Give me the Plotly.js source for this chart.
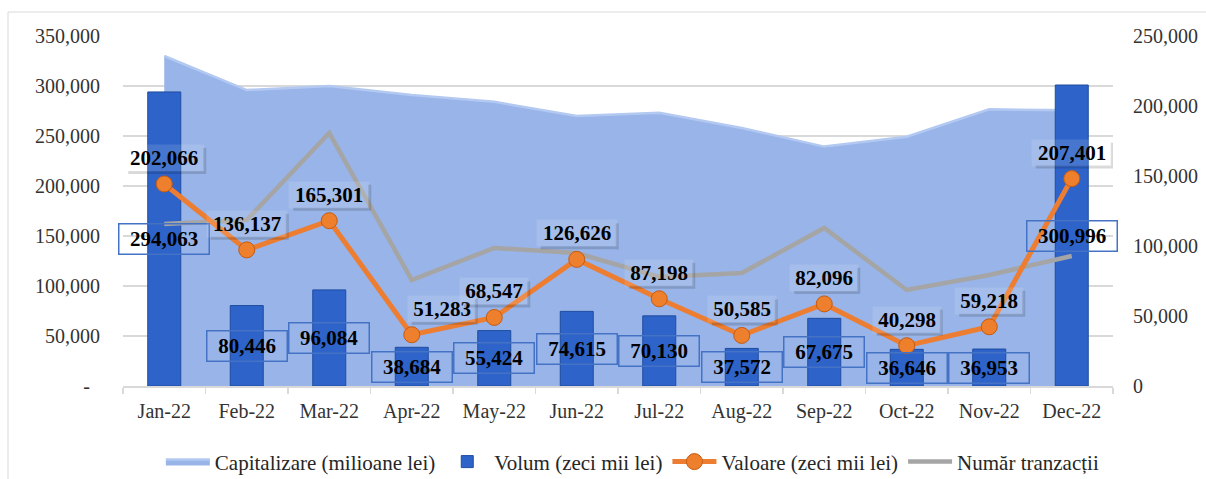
<!DOCTYPE html>
<html>
<head>
<meta charset="utf-8">
<script src="https://cdn.plot.ly/plotly-3.0.1.min.js"></script>
<style>
  html, body { margin: 0; padding: 0; background: #ffffff; }
  #chart { width: 1206px; height: 479px; }
</style>
</head>
<body>
<div id="chart"></div>
<script>
// ---- Data ----
const months = ["Jan-22", "Feb-22", "Mar-22", "Apr-22", "May-22", "Jun-22",
                "Jul-22", "Aug-22", "Sep-22", "Oct-22", "Nov-22", "Dec-22"];
// Capitalizare (milioane lei) - right axis
const capitalizare = [235700, 211400, 214300, 207900, 203000, 192900,
                      195200, 184300, 171000, 178000, 197600, 197000];
// Volum (zeci mii lei) - left axis, labelled values
const volum = [294063, 80446, 96084, 38684, 55424, 74615,
               70130, 37572, 67675, 36646, 36953, 300996];
// Valoare (zeci mii lei) - left axis, labelled values
const valoare = [202066, 136137, 165301, 51283, 68547, 126626,
                 87198, 50585, 82096, 40298, 59218, 207401];
// Număr tranzacții - right axis
const tranzactii = [115700, 118600, 180700, 75700, 98600, 95000,
                    77900, 80700, 112900, 68600, 79300, 92900];
// Tick labels
const leftTickVals = [0, 50000, 100000, 150000, 200000, 250000, 300000, 350000];
const leftTickText = ["-\u00a0\u00a0", "50,000", "100,000", "150,000", "200,000", "250,000", "300,000", "350,000"];
const rightTickVals = [0, 50000, 100000, 150000, 200000, 250000];
const rightTickText = ["0", "50,000", "100,000", "150,000", "200,000", "250,000"];

const FONT = "Liberation Serif, Times New Roman, DejaVu Serif, serif";
const fmt = v => v.toLocaleString('en-US');

const traces = [
  {
    name: "Capitalizare (milioane lei)",
    type: "scatter", mode: "lines",
    x: months, y: capitalizare, yaxis: "y",
    fill: "tozeroy", fillcolor: "#98B4E8",
    line: { color: "#B3C9F2", width: 2.5 },
    hoverinfo: "skip", legendrank: 1
  },
  {
    name: "Volum (zeci mii lei)",
    type: "bar",
    x: months, y: volum, yaxis: "y2",
    marker: { color: "#2E63C9", line: { color: "#1E4C9F", width: 1 } },
    hoverinfo: "skip", legendrank: 2
  },
  {
    name: "Valoare (zeci mii lei)",
    type: "scatter", mode: "lines+markers",
    x: months, y: valoare, yaxis: "y4",
    line: { color: "#ED7D31", width: 5 },
    marker: { color: "#EE7F2D", size: 16, line: { color: "#C55A11", width: 1 } },
    hoverinfo: "skip", legendrank: 3
  },
  {
    name: "Număr tranzacții",
    type: "scatter", mode: "lines",
    x: months, y: tranzactii, yaxis: "y3",
    line: { color: "#A5A5A5", width: 4.5 },
    hoverinfo: "skip", legendrank: 4
  }
];

const annotations = [];
const shapes = [];

// Volum labels: centered inside bars, boxed with blue border
volum.forEach((v, i) => {
  const txt = fmt(v);
  const w = txt.length >= 7 ? 85 : 75;
  annotations.push({
    x: months[i], y: v / 2, xref: "x", yref: "y2",
    text: "<b>" + txt + "</b>", showarrow: false,
    font: { family: FONT, size: 21, color: "#000000" },
    width: w, height: 25, borderpad: 2,
    bordercolor: "#4472C4", borderwidth: 1.5,
    bgcolor: "rgba(0,0,0,0)"
  });
});

// Valoare labels: above markers with soft shadow
valoare.forEach((v, i) => {
  const txt = fmt(v);
  const w = txt.length >= 7 ? 78 : 66;
  const xs = (months[i] === "Apr-22") ? 30 : 0;
  const ys = 26;
  const h = 26;
  shapes.push({
    type: "rect", xref: "x", yref: "y4",
    xsizemode: "pixel", ysizemode: "pixel",
    xanchor: months[i], yanchor: v,
    x0: xs + w / 2, x1: xs + w / 2 + 3,
    y0: ys - h / 2 - 3, y1: ys + h / 2 - 3,
    fillcolor: "rgba(0,0,0,0.15)", line: { width: 0 }, layer: "above"
  });
  shapes.push({
    type: "rect", xref: "x", yref: "y4",
    xsizemode: "pixel", ysizemode: "pixel",
    xanchor: months[i], yanchor: v,
    x0: xs - w / 2 + 3, x1: xs + w / 2,
    y0: ys - h / 2 - 3, y1: ys - h / 2,
    fillcolor: "rgba(0,0,0,0.15)", line: { width: 0 }, layer: "above"
  });
  annotations.push({
    x: months[i], y: v, xref: "x", yref: "y4",
    xshift: xs, yshift: ys,
    text: "<b>" + txt + "</b>", showarrow: false,
    font: { family: FONT, size: 21, color: "#000000" },
    width: w, height: h - 2, borderpad: 1,
    bgcolor: "rgba(255,255,255,0.12)"
  });
});

// Outer chart border
shapes.push({
  type: "rect", xref: "paper", yref: "paper",
  x0: (8 - 123) / 990, x1: (1215 - 123) / 990,
  y0: (386 - 490) / 350, y1: (386 - 12) / 350,
  line: { color: "#D9D9D9", width: 1 }, fillcolor: "rgba(0,0,0,0)", layer: "below"
});

const layout = {
  width: 1206, height: 479,
  margin: { l: 123, r: 93, t: 36, b: 93, autoexpand: false },
  paper_bgcolor: "#ffffff", plot_bgcolor: "rgba(0,0,0,0)",
  font: { family: FONT, size: 20, color: "#333333" },
  showlegend: true,
  bargap: 0.6,
  legend: {
    orientation: "h", x: 0.515, xanchor: "center", y: -0.217, yanchor: "middle",
    font: { family: FONT, size: 21, color: "#262626" },
    traceorder: "normal", itemwidth: 44
  },
  xaxis: {
    type: "category", automargin: false, range: [-0.5, 11.5],
    showgrid: false, showline: true, linecolor: "#D9D9D9", linewidth: 1.5,
    ticks: "outside", tickson: "boundaries", ticklen: 6, tickcolor: "#D9D9D9", tickwidth: 1.5,
    ticklabelstandoff: 6,
    tickfont: { family: FONT, size: 20, color: "#333333" },
    zeroline: false
  },
  yaxis: {
    side: "right", range: [0, 250000], automargin: false,
    tickvals: rightTickVals, ticktext: rightTickText,
    showgrid: false, zeroline: false, showline: false, ticks: "",
    ticklabelstandoff: 19,
    tickfont: { family: FONT, size: 20, color: "#333333" }
  },
  yaxis2: {
    side: "left", overlaying: "y", range: [0, 350000], automargin: false,
    tickvals: leftTickVals, ticktext: leftTickText,
    showgrid: true, gridcolor: "#D9D9D9", gridwidth: 1.5,
    zeroline: false, showline: false, ticks: "",
    ticklabelstandoff: 22,
    tickfont: { family: FONT, size: 20, color: "#333333" }
  },
  yaxis3: { overlaying: "y", range: [0, 250000], visible: false },
  yaxis4: { overlaying: "y", range: [0, 350000], visible: false },
  annotations: annotations,
  shapes: shapes
};

Plotly.newPlot("chart", traces, layout, { staticPlot: true, displayModeBar: false });
</script>
</body>
</html>
